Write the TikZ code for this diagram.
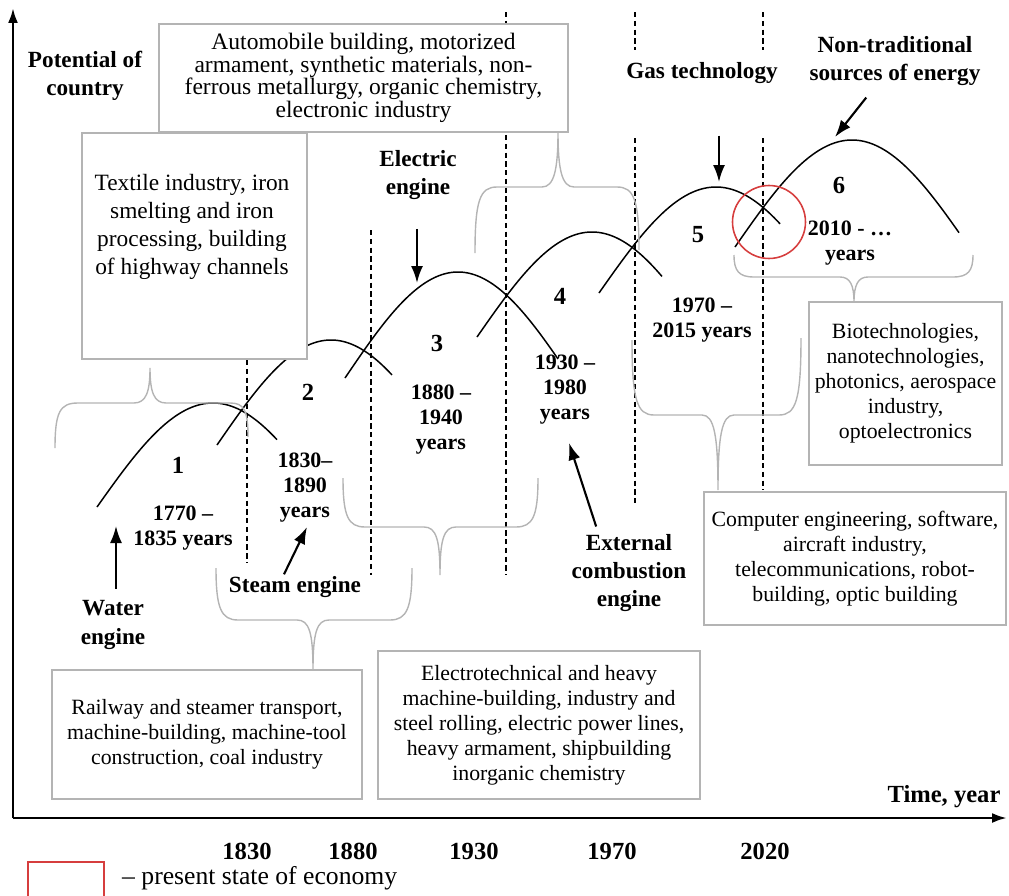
\documentclass[tikz,border=0pt]{standalone}
\usepackage{fontspec}
\setmainfont{Liberation Serif}
\usepackage{xcolor}
\usetikzlibrary{arrows.meta}

\definecolor{framegray}{RGB}{180,180,180}
\definecolor{nowred}{RGB}{214,62,62}

\begin{document}
\begin{tikzpicture}[x=0.02cm, y=-0.02cm,
    box/.style={draw=framegray, line width=0.8pt, fill=white, align=center,
      inner sep=0pt, font=\fontsize{12.4}{14.2}\selectfont},
    curly/.style={draw=framegray, line width=0.8pt},
    wave/.style={line width=0.85pt, samples=120},
    guide/.style={line width=0.65pt, dash pattern=on 3pt off 2pt},
    axis/.style={line width=1.5pt, -{Latex[length=0.3cm, width=0.2cm]}},
    push/.style={line width=1.2pt, -{Latex[length=0.34cm, width=0.24cm]}},
    engine/.style={font=\bfseries\fontsize{13.2}{16}\selectfont, align=center, inner sep=1pt},
    era/.style={font=\bfseries\fontsize{12.5}{14.2}\selectfont, align=center, inner sep=1pt},
    wavenum/.style={font=\bfseries\fontsize{14}{16}\selectfont, inner sep=1pt},
    yearlbl/.style={font=\bfseries\fontsize{14}{16}\selectfont, inner sep=1pt}]

  \useasboundingbox (0,0) rectangle (1009,896);

  % Axes
  \coordinate (origin) at (13,818);
  \coordinate (ytop)   at (13,8);
  \coordinate (xend)   at (1007,818);
  \draw[axis] (origin) -- (ytop);
  \draw[axis] (origin) -- (xend);
  \node[engine] (potential) at (85,76) {Potential of\\country};
  \node[yearlbl] (timeyear) at (944,797) {Time, year};

  % Year ticks
  \node[yearlbl] (y1830) at (247,851) {1830};
  \node[yearlbl] (y1880) at (353,851) {1880};
  \node[yearlbl] (y1930) at (474,851) {1930};
  \node[yearlbl] (y1970) at (612,851) {1970};
  \node[yearlbl] (y2020) at (765,851) {2020};

  % Dashed period borders
  \draw[guide] (247,360) -- (247,563);
  \draw[guide] (371,230) -- (371,575);
  \draw[guide] (506,12)  -- (506,575);
  \draw[guide] (635,12)  -- (635,50);
  \draw[guide] (635,138) -- (635,503);
  \draw[guide] (763,12)  -- (763,50);
  \draw[guide] (763,138) -- (763,490);

  % Waves
  \draw[wave, domain=97:277]  plot (\x, {403 + 104*(1 - cos((\x - 213)/116*90))});
  \draw[wave, domain=217:392] plot (\x, {340 + 105*(1 - cos((\x - 331)/114*90))});
  \draw[wave, domain=345:558] plot (\x, {272 + 106*(1 - cos((\x - 458)/113*90))});
  \draw[wave, domain=477:662] plot (\x, {232 + 105*(1 - cos((\x - 592)/115*90))});
  \draw[wave, domain=599:780] plot (\x, {187 + 106*(1 - cos((\x - 716)/117*90))});
  \draw[wave, domain=735:959] plot (\x, {140 + 107*(1 - cos((\x - 852)/117*90))});

  % Boxes
  \node[box, minimum width=8.18cm, minimum height=2.16cm,
        font=\fontsize{13.4}{12.9}\selectfont] (auto) at (363.5,78)
    {Automobile building, motorized\\armament, synthetic materials, non-\\ferrous metallurgy, organic chemistry,\\electronic industry};
  \node[box, minimum width=4.5cm, minimum height=4.52cm] (textile) at (194.5,246) {};
  \node[font=\fontsize{13.3}{16}\selectfont, align=center] (textiletext) at (192,227)
    {Textile industry, iron\\smelting and iron\\processing, building\\of highway channels};
  \node[box, minimum width=6.2cm, minimum height=2.58cm] (railway) at (207,734.5)
    {Railway and steamer transport,\\machine-building, machine-tool\\construction, coal industry};
  \node[box, minimum width=6.44cm, minimum height=2.96cm] (electro) at (539,725)
    {Electrotechnical and heavy\\machine-building, industry and\\steel rolling, electric power lines,\\heavy armament, shipbuilding\\inorganic chemistry};
  \node[box, minimum width=6.04cm, minimum height=2.66cm] (computer) at (855,558.5)
    {Computer engineering, software,\\aircraft industry,\\telecommunications, robot-\\building, optic building};
  \node[box, minimum width=3.86cm, minimum height=3.26cm] (biotech) at (905.5,383.5)
    {Biotechnologies,\\nanotechnologies,\\photonics, aerospace\\industry,\\optoelectronics};

  % Braces
  \draw[curly] (55,448) .. controls (55,412) and (60,403) .. (78,403) -- (134,403)
    .. controls (146,403) and (150,392) .. (150,368)
    .. controls (150,392) and (154,403) .. (166,403) -- (230,403)
    .. controls (244,403) and (248,410) .. (248,437);
  \draw[curly] (216,568) .. controls (216,608) and (221,620) .. (238,620) -- (297,620)
    .. controls (309,620) and (313,632) .. (313,670)
    .. controls (313,632) and (317,620) .. (329,620) -- (390,620)
    .. controls (407,620) and (412,608) .. (412,568);
  \draw[curly] (343,478) .. controls (343,516) and (348,527) .. (365,527) -- (424,527)
    .. controls (436,527) and (440,539) .. (440,575)
    .. controls (440,539) and (444,527) .. (456,527) -- (516,527)
    .. controls (533,527) and (538,516) .. (538,478);
  \draw[curly] (475,253) .. controls (475,200) and (480,187) .. (497,187) -- (542,187)
    .. controls (554,187) and (558,170) .. (558,132)
    .. controls (558,170) and (562,187) .. (574,187) -- (617,187)
    .. controls (634,187) and (639,200) .. (639,250);
  \draw[curly] (632,340) .. controls (632,400) and (637,415) .. (654,415) -- (702,415)
    .. controls (714,415) and (718,435) .. (718,490)
    .. controls (718,435) and (722,415) .. (734,415) -- (779,415)
    .. controls (796,415) and (801,400) .. (801,338);
  \draw[curly] (734,255) .. controls (734,271) and (739,277) .. (754,277) -- (840,277)
    .. controls (850,277) and (854,285) .. (854,302)
    .. controls (854,285) and (858,277) .. (868,277) -- (953,277)
    .. controls (968,277) and (973,271) .. (973,255);

  % Wave numbers and periods
  \node[wavenum] (n1) at (178,465) {1};
  \node[wavenum] (n2) at (308,392) {2};
  \node[wavenum] (n3) at (437,343) {3};
  \node[wavenum] (n4) at (560,296) {4};
  \node[wavenum] (n5) at (698,235) {5};
  \node[wavenum] (n6) at (839,185) {6};
  \node[era] (era1) at (183,528) {1770 –\\1835 years};
  \node[era] (era2) at (305,488) {1830–\\1890\\years};
  \node[era] (era3) at (441,420) {1880 –\\1940\\years};
  \node[era] (era4) at (565,390) {1930 –\\1980\\years};
  \node[era] (era5) at (702,320) {1970 –\\2015 years};
  \node[era] (era6) at (850,243) {2010 - …\\years};

  % Present state
  \node[draw=nowred, circle, line width=0.9pt, minimum size=1.46cm, inner sep=0pt] (present) at (769,222) {};

  % Engines
  \node[engine] (water) at (113,625) {Water\\engine};
  \node[engine] (steam) at (295,587) {Steam engine};
  \node[engine] (electric) at (418,175) {Electric\\engine};
  \node[engine] (external) at (629,573) {External\\combustion\\engine};
  \node[engine] (gas) at (702,73) {Gas technology};
  \node[engine] (nontrad) at (895,61) {Non-traditional\\sources of energy};
  \coordinate (watertip)    at (116,526);
  \coordinate (steamtip)    at (307,527);
  \coordinate (electrictip) at (417,283);
  \coordinate (externaltip) at (569,443);
  \coordinate (gastip)      at (719,182);
  \coordinate (nontradtip)  at (835,137);
  \draw[push, shorten <=0.2cm] (water.north -| watertip) -- (watertip);
  \draw[push] ([xshift=-0.22cm]steam.north) -- (steamtip);
  \draw[push, shorten <=0.54cm] (electric.south -| electrictip) -- (electrictip);
  \draw[push, shorten <=0.12cm] ([xshift=-0.62cm]external.north) -- (externaltip);
  \draw[push, shorten <=1.0cm] (gas.south -| gastip) -- (gastip);
  \draw[push, shorten <=0.25cm] ([xshift=-0.42cm]nontrad.south) -- (nontradtip);

  % Legend
  \draw[draw=nowred, line width=1pt] (28,897) -- (28,862) -- (104,862) -- (104,897);
  \node[anchor=west, font=\fontsize{14.6}{16}\selectfont] (legendtext) at (116,878)
    {– present state of economy};
\end{tikzpicture}
\end{document}
